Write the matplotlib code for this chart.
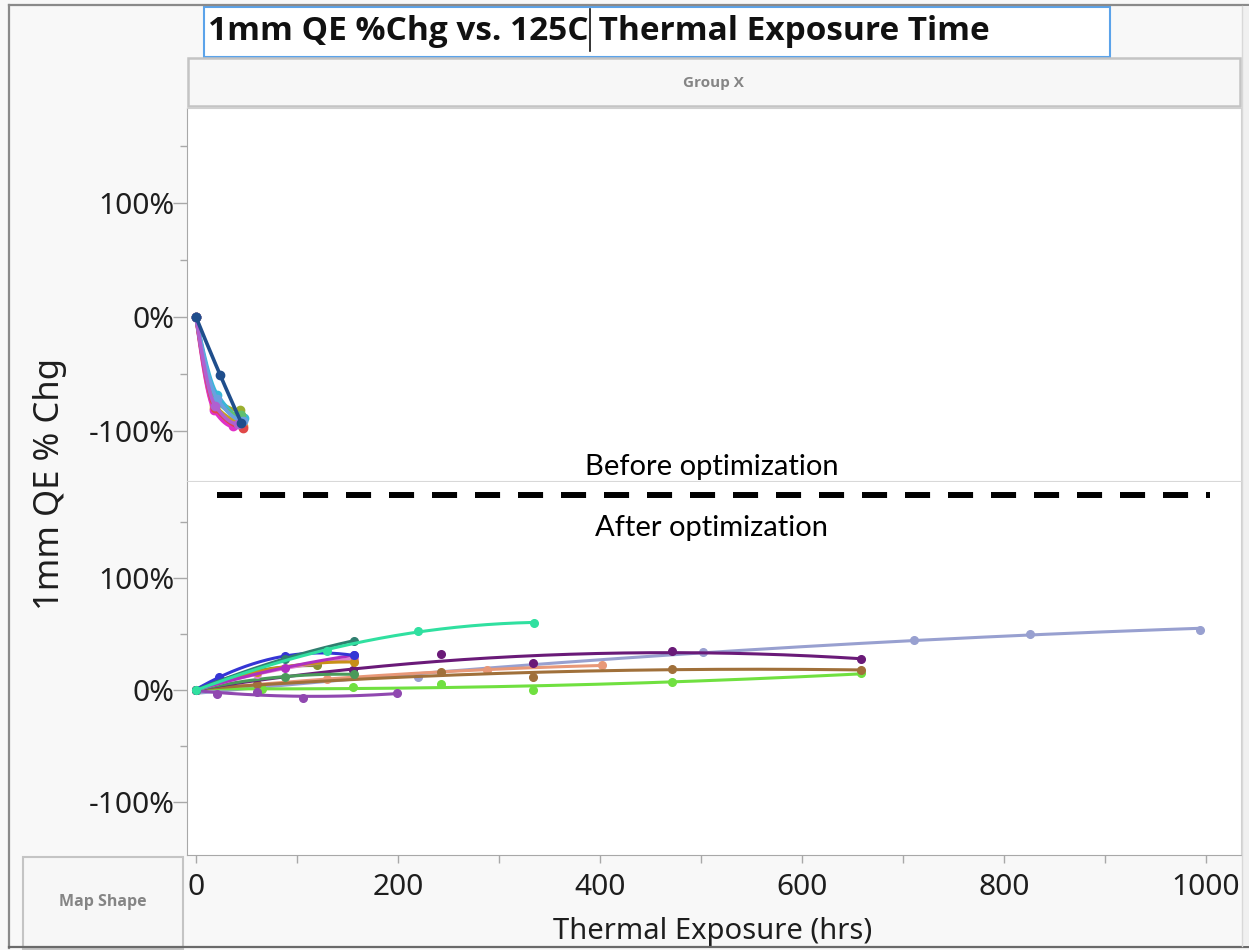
import numpy as np
import matplotlib
matplotlib.use("Agg")
import matplotlib.pyplot as plt
from matplotlib.patches import Rectangle
from matplotlib.lines import Line2D
from matplotlib.transforms import Affine2D
from matplotlib.ticker import MultipleLocator, FuncFormatter

W, H = 1249, 950

# ---------------- data ----------------
title_left = "1mm QE %Chg vs. 125C"
title_right = " Thermal Exposure Time"
y_label = "1mm QE % Chg"
x_label = "Thermal Exposure (hrs)"

before_colors = ["#e8a030", "#c8a020", "#9cb030", "#40b0a0", "#38b8d8",
                 "#e030c8", "#e04848", "#60c070", "#6aa0e0", "#b060d0", "#1f4e8c"]
before_hours = [[0, 18, 47], [0, 18, 46], [0, 20, 44], [0, 20, 46], [0, 21, 48],
                [0, 18, 37], [0, 19, 47], [0, 20, 45], [0, 21, 47], [0, 19, 42], [0, 24, 45]]
before_pct = [[0, -80, -96], [0, -77, -92], [0, -72, -82], [0, -70, -88], [0, -68, -89],
              [0, -82, -96], [0, -80, -97], [0, -74, -86], [0, -72, -91], [0, -78, -94], [0, -51, -93]]

after_colors = ["#98a0d0", "#e89878", "#70e040", "#a0703a", "#6a1a78", "#9048b0",
                "#4a9a5a", "#8a9030", "#e080d0", "#c89018", "#b030c0", "#3535d5",
                "#2f7f6f", "#30e0a0"]
after_hours = [[0, 21, 220, 502, 711, 826, 994],
               [0, 130, 288, 402],
               [0, 65, 155, 243, 334, 471, 658],
               [0, 60, 243, 334, 471, 658],
               [0, 155, 243, 334, 471, 658],
               [0, 21, 60, 106, 199],
               [0, 88, 156],
               [0, 23, 60, 120],
               [0, 60, 156],
               [0, 60, 156],
               [0, 88, 156],
               [0, 23, 88, 156],
               [0, 88, 156],
               [0, 130, 220, 335]]
after_pct = [[0, -3, 12, 34, 45, 50, 54],
             [0, 10, 18, 22],
             [0, 1, 3, 5, 0, 7, 15],
             [0, 5, 16, 12, 19, 18],
             [0, 18, 32, 24, 35, 28],
             [0, -4, -2, -7, -3],
             [0, 12, 14],
             [0, 10, 16, 22],
             [0, 14, 28],
             [0, 16, 25],
             [0, 20, 31],
             [0, 12, 30, 31],
             [0, 28, 44],
             [0, 35, 53, 60]]

# ---------------- figure ----------------
fig = plt.figure(figsize=(W / 100, H / 100), dpi=100)
fig.patch.set_facecolor("#f8f8f8")
pix = Affine2D().scale(1.0 / W, -1.0 / H).translate(0, 1) + fig.transFigure
FONT = ["Noto Sans", "DejaVu Sans"]
BOLD = ["Open Sans", "DejaVu Sans"]


def frac(x0, y0, x1, y1):
    return [x0 / W, 1 - y1 / H, (x1 - x0) / W, (y1 - y0) / H]


ax1 = fig.add_axes(frac(187, 108, 1241, 481))
ax2 = fig.add_axes(frac(187, 482, 1241, 855))

xlim = ((187 - 196) / 1.01, (1241 - 196) / 1.01)
ax1.set_xlim(*xlim)
ax2.set_xlim(*xlim)
ax1.set_ylim((317 - 481) / 1.14, (317 - 108) / 1.14)
ax2.set_ylim((690 - 855) / 1.12, (690 - 482) / 1.12)

pct_fmt = FuncFormatter(lambda v, p: f"{int(round(v))}%")
for ax in (ax1, ax2):
    ax.set_facecolor("white")
    ax.yaxis.set_major_locator(MultipleLocator(100))
    ax.yaxis.set_minor_locator(MultipleLocator(50))
    ax.yaxis.set_major_formatter(pct_fmt)
    ax.tick_params(axis="y", which="major", direction="out", length=10, width=1,
                   color="#a8a8a8", labelsize=21.5, labelcolor="#1e1e1e", pad=-1)
    ax.tick_params(axis="y", which="minor", direction="out", length=5, width=1,
                   color="#a8a8a8")
    for lab in ax.get_yticklabels():
        lab.set_fontfamily(FONT)
    ax.spines["left"].set_color("#a8a8a8")
    ax.spines["right"].set_color("#d0d0d0")
    ax.spines["top"].set_color("#d0d0d0")
    ax.spines["bottom"].set_color("#d8d8d8")

ax1.tick_params(axis="x", which="both", bottom=False, labelbottom=False)
ax2.spines["top"].set_visible(False)
ax2.spines["bottom"].set_color("#a8a8a8")
ax2.xaxis.set_major_locator(MultipleLocator(200))
ax2.xaxis.set_minor_locator(MultipleLocator(100))
ax2.tick_params(axis="x", which="both", direction="out", length=6, width=1,
                color="#a8a8a8", labelsize=21.5, labelcolor="#1e1e1e", pad=7)
for lab in ax2.get_xticklabels():
    lab.set_fontfamily(FONT)


def pchip(x, y, xs):
    x = np.asarray(x, float)
    y = np.asarray(y, float)
    h = np.diff(x)
    d = np.diff(y) / h
    n = len(x)
    m = np.zeros(n)
    for k in range(1, n - 1):
        if d[k - 1] * d[k] > 0:
            w1 = 2 * h[k] + h[k - 1]
            w2 = h[k] + 2 * h[k - 1]
            m[k] = (w1 + w2) / (w1 / d[k - 1] + w2 / d[k])
    def end(h0, h1, d0, d1):
        v = ((2 * h0 + h1) * d0 - h0 * d1) / (h0 + h1)
        if np.sign(v) != np.sign(d0):
            v = 0.0
        elif np.sign(d0) != np.sign(d1) and abs(v) > 3 * abs(d0):
            v = 3 * d0
        return v
    m[0] = end(h[0], h[1], d[0], d[1])
    m[-1] = end(h[-1], h[-2], d[-1], d[-2])
    idx = np.clip(np.searchsorted(x, xs) - 1, 0, n - 2)
    t = (xs - x[idx]) / h[idx]
    h00 = 2 * t**3 - 3 * t**2 + 1
    h10 = t**3 - 2 * t**2 + t
    h01 = -2 * t**3 + 3 * t**2
    h11 = t**3 - t**2
    return h00 * y[idx] + h10 * h[idx] * m[idx] + h01 * y[idx + 1] + h11 * h[idx] * m[idx + 1]


def draw_before(ax, hours, pct, color):
    xs = np.linspace(min(hours), max(hours), 200)
    ax.plot(xs, pchip(hours, pct, xs), color=color, lw=2.6, solid_capstyle="round")
    ax.plot(hours, pct, "o", color=color, ms=6, mec=color)


def draw_after(ax, hours, pct, color):
    hx = np.asarray(hours, float)
    py = np.asarray(pct, float)
    deg = min(2, len(hx) - 1)
    coef = np.polyfit(hx, py, deg)
    xs = np.linspace(hx.min(), hx.max(), 200)
    ax.plot(xs, np.polyval(coef, xs), color=color, lw=2.2, solid_capstyle="round")
    ax.plot(hx, py, "o", color=color, ms=5.5, mec=color)


for c, hx, py in zip(before_colors, before_hours, before_pct):
    draw_before(ax1, hx, py, c)
for c, hx, py in zip(after_colors, after_hours, after_pct):
    draw_after(ax2, hx, py, c)

# ---------------- frame decorations ----------------
TITLE_SIZE = 24
fig.add_artist(Rectangle((204, 7), 906, 50, transform=pix, fc="white",
                         ec="#5ba3ea", lw=1.5, zorder=2))
t_left = fig.text(208, 31, title_left, transform=pix, ha="left", va="center",
                  fontsize=TITLE_SIZE, fontweight="bold", family=BOLD, color="#111111", zorder=3)
renderer = fig.canvas.get_renderer()
bb = t_left.get_window_extent(renderer)
x_cursor = 208 + bb.width + 1
fig.add_artist(Line2D([x_cursor, x_cursor], [9, 51], transform=pix, color="#111111",
                      lw=1.2, zorder=3))
fig.text(x_cursor, 31, title_right, transform=pix, ha="left", va="center",
         fontsize=TITLE_SIZE, fontweight="bold", family=BOLD, color="#111111", zorder=3)

fig.add_artist(Rectangle((188, 58), 1052, 48, transform=pix, fc="#f7f7f7",
                         ec="#c4c4c4", lw=1.8, zorder=2))
fig.text(713, 83, "Group X", transform=pix, ha="center", va="center", fontsize=11,
         fontweight="bold", family=BOLD, color="#858585", zorder=3)

fig.add_artist(Rectangle((23, 857), 160, 92, transform=pix, fc="#f7f7f7",
                         ec="#c4c4c4", lw=1.5, zorder=2))
fig.text(103, 902, "Map Shape", transform=pix, ha="center", va="center", fontsize=11.5,
         fontweight="bold", family=BOLD, color="#858585", zorder=3)

fig.text(50, 484, y_label, transform=pix, rotation=90, ha="center", va="center",
         fontsize=25, family=FONT, color="#1e1e1e")
fig.text(713, 931, x_label, transform=pix, ha="center", va="center",
         fontsize=21, family=FONT, color="#1e1e1e")

fig.text(712, 467, "Before optimization", transform=pix, ha="center", va="center",
         fontsize=21, family=["Lato", "DejaVu Sans"], color="black", zorder=4)
fig.text(712, 528, "After optimization", transform=pix, ha="center", va="center",
         fontsize=21, family=["Lato", "DejaVu Sans"], color="black", zorder=4)
fig.add_artist(Line2D([217, 1210], [495, 495], transform=pix, color="black", lw=4.3,
                      dashes=(4.2, 3.0), zorder=4))

# outer window border
fig.add_artist(Line2D([9, 9], [5, 948], transform=pix, color="#8a8a8a", lw=1.6, zorder=5))
fig.add_artist(Line2D([9, 1249], [5, 5], transform=pix, color="#8a8a8a", lw=1.6, zorder=5))
fig.add_artist(Line2D([9, 1249], [947, 947], transform=pix, color="#6a6a6a", lw=1.6, zorder=5))
fig.add_artist(Rectangle((1243, 6), 6, 940, transform=pix, fc="#f0f0f0", ec="none", zorder=5))
fig.add_artist(Line2D([1242, 1242], [6, 946], transform=pix, color="#d8d8d8", lw=1, zorder=5))

fig.savefig("out.png", dpi=100, facecolor=fig.get_facecolor())
